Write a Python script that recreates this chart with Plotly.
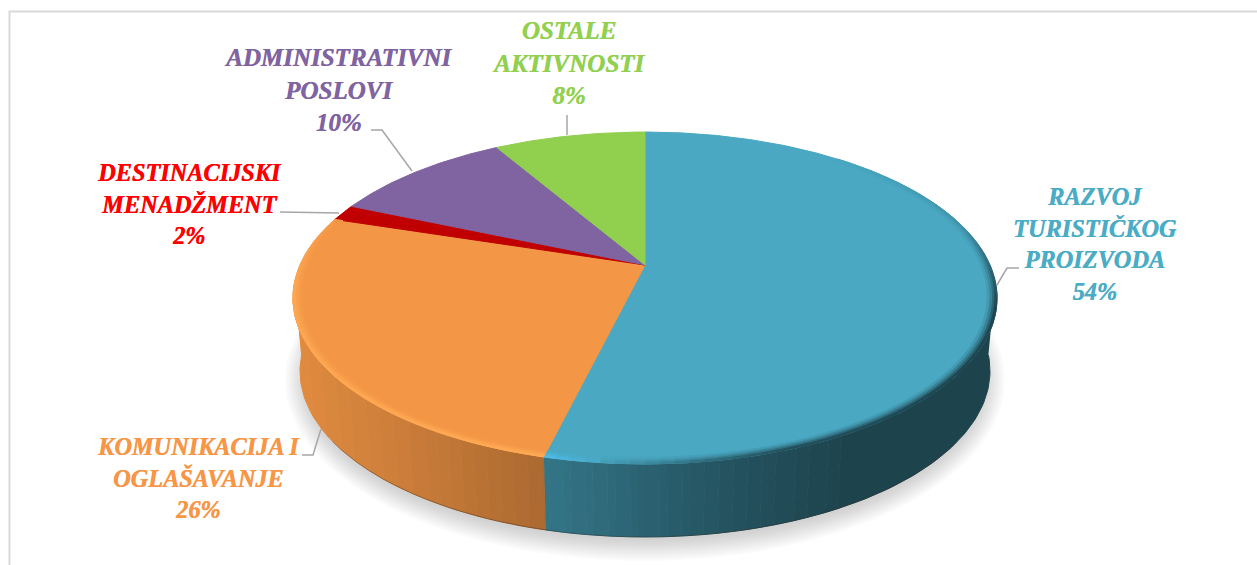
import numpy as np
import plotly.graph_objects as go

# ---- data ----
categories = ["RAZVOJ<br>TURISTIČKOG<br>PROIZVODA", "KOMUNIKACIJA I<br>OGLAŠAVANJE",
              "DESTINACIJSKI<br>MENADŽMENT", "ADMINISTRATIVNI<br>POSLOVI", "OSTALE<br>AKTIVNOSTI"]
values = [53.8, 26.1, 1.6, 10.1, 8.4]
percent_labels = [54, 26, 2, 10, 8]
slice_colors = ["#4AA8C2", "#F39645", "#C00000", "#8063A1", "#91CF4E"]
label_colors = ["#4BACC6", "#F79646", "#FF0000", "#8064A2", "#92D050"]

# ---- geometry of the perspective disc (pixel-like axis units) ----
CX, APEX_Y = 645.0, 265.0
K, A, B = 0.1988, 159.4, 345.0
DEPTH, BOTTOM_SCALE = 73.0, 0.98


def project(theta_deg, r=1.0):
    t = np.radians(np.asarray(theta_deg, dtype=float))
    X, Y = r * np.sin(t), r * np.cos(t)
    d = 1 + K * Y
    return CX + B * X / d, APEX_Y - A * Y / d


def lower(x, y):
    return CX + (x - CX) * BOTTOM_SCALE, y + DEPTH


def rgb(hexc):
    return np.array([int(hexc[i:i + 2], 16) for i in (1, 3, 5)], dtype=float)


def css(c):
    c = np.clip(c, 0, 255).astype(int)
    return f"rgb({c[0]},{c[1]},{c[2]})"


fig = go.Figure()


def poly(x, y, color, line=True):
    fig.add_trace(go.Scatter(
        x=list(x), y=list(y), mode="lines", fill="toself", fillcolor=color,
        line=dict(color=color if line else "rgba(0,0,0,0)", width=1 if line else 0),
        hoverinfo="skip", showlegend=False))


# cumulative slice boundaries, clockwise from the top
edges = np.concatenate([[0], np.cumsum(values)]) / sum(values) * 360.0

# soft shadow under the disc
tt = np.linspace(0, 360, 181)
sx, sy = project(tt)
sx, sy = lower(sx, sy)
for grow in np.linspace(15, -6, 12):
    poly(CX + (sx - CX) * (1 + grow / 345), sy + 9 + (sy - 372) * grow / 165,
         "rgba(125,125,125,0.026)", line=False)


# side wall, shaded from left to right; equal shades are merged into one polygon
def wall_shade(x):
    s = np.interp(x, [293, 400, 547, 700, 850, 1000], [0.93, 0.84, 0.70, 0.52, 0.40, 0.40])
    return round(float(s) * 80) / 80


STEP = 1.0
wall_angles = np.arange(96, 264 + STEP, STEP)
split_angles = np.sort(np.unique(np.concatenate([wall_angles, edges[(edges > 96) & (edges < 264)]])))
groups = []
for a0, a1 in zip(split_angles[:-1], split_angles[1:]):
    mid = (a0 + a1) / 2
    idx = int(np.searchsorted(edges, mid) - 1)
    x0, _ = project([a0, a1])
    key = (idx, wall_shade(x0.mean()))
    if groups and groups[-1][0] == key:
        groups[-1][1].append(a1)
    else:
        groups.append((key, [a0, a1]))
for (idx, shade), angs in groups:
    xt, yt = project(angs)
    xb, yb = lower(xt, yt)
    poly(np.concatenate([xt, xb[::-1]]), np.concatenate([yt, yb[::-1]]), css(rgb(slice_colors[idx]) * shade))

# dark lower edge of the wall
ax = np.arange(125, 236, 2)
lx, ly = lower(*project(ax))
fig.add_trace(go.Scatter(x=lx, y=ly, mode="lines", line=dict(color="rgba(50,35,25,0.35)", width=1),
                         hoverinfo="skip", showlegend=False))

# top-face wedges
for i in range(len(values)):
    th = np.linspace(edges[i], edges[i + 1], max(3, int((edges[i + 1] - edges[i]) * 2)))
    px, py = project(th)
    poly(np.concatenate([[CX], px, [CX]]), np.concatenate([[APEX_Y], py, [APEX_Y]]), slice_colors[i])


# bevelled rim on the top face
def rim_strength(theta):
    return np.interp(theta, [40, 75, 92, 105, 135, 160, 172, 185, 194, 260, 288],
                     [0, -0.2, -0.7, -1.0, -1.0, -0.9, -0.6, -0.1, 1.0, 0.9, 0.2])


bands = [(1.000, 0.994, 1.0), (0.994, 0.988, 0.7), (0.988, 0.981, 0.4), (0.981, 0.973, 0.15)]
RIM_STEP = 2.0
rim_angles = np.sort(np.unique(np.concatenate([np.arange(40, 288, RIM_STEP), edges[(edges > 40) & (edges < 288)]])))
LIGHT = np.array([1.05, 1.13, 1.22])
for r0, r1, w in reversed(bands):
    for a0, a1 in zip(rim_angles[:-1], rim_angles[1:]):
        mid = (a0 + a1) / 2
        idx = int(np.searchsorted(edges, mid) - 1)
        s = float(rim_strength(mid)) * w
        base = rgb(slice_colors[idx])
        col = base * (1 + (LIGHT - 1) * s) if s > 0 else base * (1 + 0.58 * s)
        xo, yo = project([a0, a1], r0)
        xi, yi = project([a0, a1], r1)
        poly([xo[0], xo[1], xi[1], xi[0]], [yo[0], yo[1], yi[1], yi[0]], css(col))

# ---- leader lines and frame (layout decoration) ----
GREY = "#A6A6A6"
leaders = [
    "M1019,268 L1007,268 L997,285",
    "M302,455 L313,455 L321,429",
    "M280,212 L339,213",
    "M371,130 L382,130 L412,171",
    "M567,115 L567,135",
]
shapes = [dict(type="path", path=p, line=dict(color=GREY, width=1.5), layer="above") for p in leaders]
shapes.append(dict(type="path", path="M1257,11.5 L9.5,11.5 L9.5,565",
                   line=dict(color="#D9D9D9", width=2), layer="below"))

# ---- labels ----
label_pos = [(1095, 244), (198, 478), (189, 204), (338, 89.5), (568, 63)]
label_size = [24.3, 24.3, 24.3, 25, 25]
annotations = []
for name, v, c, (lx_, ly_), sz in zip(categories, percent_labels, label_colors, label_pos, label_size):
    annotations.append(dict(
        x=lx_, y=ly_, xref="x", yref="y", showarrow=False, align="center",
        text=f"{name}<br>{v}%", xanchor="center", yanchor="middle",
        font=dict(family="Liberation Serif", size=sz, color=c, style="italic", weight="bold",
                  shadow=f"0.5px 0 0 {c}")))

fig.update_layout(
    width=1257, height=565, margin=dict(l=0, r=0, t=0, b=0, pad=0),
    paper_bgcolor="white", plot_bgcolor="white", showlegend=False,
    xaxis=dict(range=[0, 1257], visible=False, fixedrange=True),
    yaxis=dict(range=[565, 0], visible=False, fixedrange=True),
    shapes=shapes, annotations=annotations)

fig.write_html("out.html", config=dict(displayModeBar=False),
               post_script="document.body.style.margin='0';document.documentElement.style.overflow='hidden';")
